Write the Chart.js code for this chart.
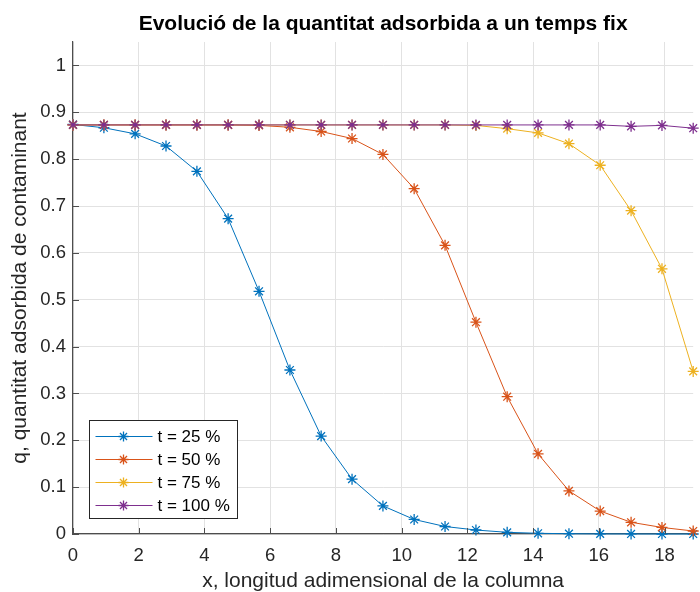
<!DOCTYPE html>
<html>
<head>
<meta charset="utf-8">
<script src="https://cdn.jsdelivr.net/npm/chart.js@4/dist/chart.umd.min.js"></script>
<style>
  html, body { margin: 0; padding: 0; overflow: hidden; background: #fff; }
  #wrap { width: 700px; height: 592px; overflow: hidden; }
</style>
</head>
<body>
<div id="wrap"><canvas id="c" width="700" height="600"></canvas></div>
<script>
// ---- data ----
const xPositions = [0, 0.94, 1.89, 2.83, 3.77, 4.72, 5.66, 6.6, 7.55, 8.49, 9.43, 10.38, 11.32, 12.26, 13.21, 14.15, 15.09, 16.04, 16.98, 17.92, 18.87];
const seriesLabels = ['t = 25 %', 't = 50 %', 't = 75 %', 't = 100 %'];
const q25  = [0.874, 0.867, 0.854, 0.828, 0.774, 0.673, 0.518, 0.350, 0.209, 0.117, 0.060, 0.031, 0.016, 0.0085, 0.0036, 0.0015, 0.0006, 0.0002, 0.0001, 0.0, 0.0];
const q50  = [0.873, 0.873, 0.873, 0.873, 0.873, 0.873, 0.872, 0.868, 0.859, 0.844, 0.810, 0.737, 0.616, 0.452, 0.293, 0.171, 0.092, 0.049, 0.025, 0.014, 0.0064];
const q75  = [0.873, 0.873, 0.873, 0.873, 0.873, 0.873, 0.873, 0.873, 0.873, 0.873, 0.873, 0.873, 0.873, 0.872, 0.865, 0.856, 0.833, 0.787, 0.690, 0.566, 0.347];
const q100 = [0.873, 0.873, 0.873, 0.873, 0.873, 0.873, 0.873, 0.873, 0.873, 0.873, 0.873, 0.873, 0.873, 0.873, 0.873, 0.873, 0.873, 0.873, 0.870, 0.872, 0.866];
const xTickValues = [0, 2, 4, 6, 8, 10, 12, 14, 16, 18];
const xTickLabels = ['0', '2', '4', '6', '8', '10', '12', '14', '16', '18'];
const yTickValues = [0, 0.1, 0.2, 0.3, 0.4, 0.5, 0.6, 0.7, 0.8, 0.9, 1];
const yTickLabels = ['0', '0.1', '0.2', '0.3', '0.4', '0.5', '0.6', '0.7', '0.8', '0.9', '1'];
const colors = ['#0072BD', '#D95319', '#EDB120', '#7E2F8E'];
const titleText = 'Evolució de la quantitat adsorbida a un temps fix';
const xTitle = 'x, longitud adimensional de la columna';
const yTitle = 'q, quantitat adsorbida de contaminant';

const FONT = "'Liberation Sans', Arial, Helvetica, sans-serif";
const AXIS_COLOR = '#4d4d4d';

function toPoints(ys) { return ys.map((y, i) => ({ x: xPositions[i], y })); }
const allSeries = [q25, q50, q75, q100];

const datasets = allSeries.map((ys, i) => ({
  label: seriesLabels[i],
  data: toPoints(ys),
  borderColor: colors[i],
  backgroundColor: colors[i],
  borderWidth: 1,
  pointStyle: 'star',
  pointRadius: 5.5,
  pointBorderWidth: 1.3,
  pointBorderColor: colors[i],
  pointHoverRadius: 5.5,
  tension: 0,
  clip: false,
  order: allSeries.length - i
}));

function drawStar(ctx, x, y, r) {
  ctx.beginPath();
  for (let k = 0; k < 4; k++) {
    const a = k * Math.PI / 4;
    ctx.moveTo(x - r * Math.cos(a), y - r * Math.sin(a));
    ctx.lineTo(x + r * Math.cos(a), y + r * Math.sin(a));
  }
  ctx.stroke();
}

const innerTicks = {
  id: 'innerTicks',
  afterDatasetsDraw(chart) {
    const { ctx, chartArea, scales } = chart;
    ctx.save();
    ctx.strokeStyle = AXIS_COLOR;
    ctx.lineWidth = 1;
    ctx.beginPath();
    xTickValues.forEach(v => {
      const px = Math.round(scales.x.getPixelForValue(v)) + 0.5;
      ctx.moveTo(px, chartArea.bottom);
      ctx.lineTo(px, chartArea.bottom - 6);
    });
    yTickValues.forEach(v => {
      const py = Math.round(scales.y.getPixelForValue(v)) + 0.5;
      ctx.moveTo(chartArea.left, py);
      ctx.lineTo(chartArea.left + 6, py);
    });
    ctx.stroke();
    ctx.restore();
  }
};

const insetLegend = {
  id: 'insetLegend',
  afterDraw(chart) {
    const { ctx, chartArea } = chart;
    const boxW = 148, boxH = 98;
    const x0 = Math.round(chartArea.left + 16) + 0.5;
    const y0 = Math.round(chartArea.bottom - 16 - boxH) + 0.5;
    ctx.save();
    ctx.fillStyle = '#ffffff';
    ctx.fillRect(x0, y0, boxW, boxH);
    ctx.strokeStyle = '#262626';
    ctx.lineWidth = 1;
    ctx.strokeRect(x0, y0, boxW, boxH);
    ctx.font = '17px ' + FONT;
    ctx.textBaseline = 'middle';
    ctx.textAlign = 'left';
    chart.data.datasets.forEach((ds, i) => {
      const y = y0 + 16 + i * 23;
      ctx.strokeStyle = ds.borderColor;
      ctx.lineWidth = 1;
      ctx.beginPath();
      ctx.moveTo(x0 + 6, y);
      ctx.lineTo(x0 + 63, y);
      ctx.stroke();
      ctx.lineWidth = 1.3;
      drawStar(ctx, x0 + 34, y, 5);
      ctx.fillStyle = '#000000';
      ctx.fillText(ds.label, x0 + 68, y + 0.5);
    });
    ctx.restore();
  }
};

new Chart(document.getElementById('c'), {
  type: 'line',
  data: { datasets },
  options: {
    responsive: false,
    animation: false,
    events: [],
    layout: { padding: { top: 0, left: 0, right: 3, bottom: 0 } },
    plugins: {
      legend: { display: false },
      tooltip: { enabled: false },
      title: {
        display: true,
        fullSize: false,
        text: titleText,
        color: '#000000',
        font: { family: FONT, size: 21, weight: 'bold', lineHeight: 1.2 },
        padding: { top: 12, bottom: 4.8 }
      }
    },
    scales: {
      x: {
        type: 'linear',
        min: 0,
        max: xPositions[xPositions.length - 1],
        afterBuildTicks(scale) { scale.ticks = xTickValues.map(v => ({ value: v })); },
        afterFit(scale) { scale.height = 66; },
        ticks: {
          color: '#262626',
          font: { family: FONT, size: 18.5 },
          padding: 11,
          maxRotation: 0,
          autoSkip: false,
          callback: (v) => { const k = xTickValues.indexOf(v); return k >= 0 ? xTickLabels[k] : ''; }
        },
        grid: { color: '#e2e2e2', lineWidth: 1, drawTicks: false },
        border: { display: true, color: AXIS_COLOR, width: 1.2 },
        title: {
          display: true,
          text: xTitle,
          color: '#262626',
          font: { family: FONT, size: 21, lineHeight: 1.2 },
          padding: { top: 0, bottom: 5.7 }
        }
      },
      y: {
        type: 'linear',
        min: 0,
        max: 1.05,
        afterBuildTicks(scale) { scale.ticks = yTickValues.map(v => ({ value: v })); },
        afterFit(scale) { scale.width = 73; },
        ticks: {
          color: '#262626',
          font: { family: FONT, size: 18.5 },
          padding: 7,
          autoSkip: false,
          callback: (v) => {
            const k = yTickValues.findIndex(t => Math.abs(t - v) < 1e-9);
            return k >= 0 ? yTickLabels[k] : '';
          }
        },
        grid: { color: '#e2e2e2', lineWidth: 1, drawTicks: false },
        border: { display: true, color: AXIS_COLOR, width: 1.2 },
        title: {
          display: true,
          text: yTitle,
          color: '#262626',
          font: { family: FONT, size: 21, lineHeight: 1.2 },
          padding: { top: 8, bottom: 0 }
        }
      }
    }
  },
  plugins: [innerTicks, insetLegend]
});
</script>
</body>
</html>
